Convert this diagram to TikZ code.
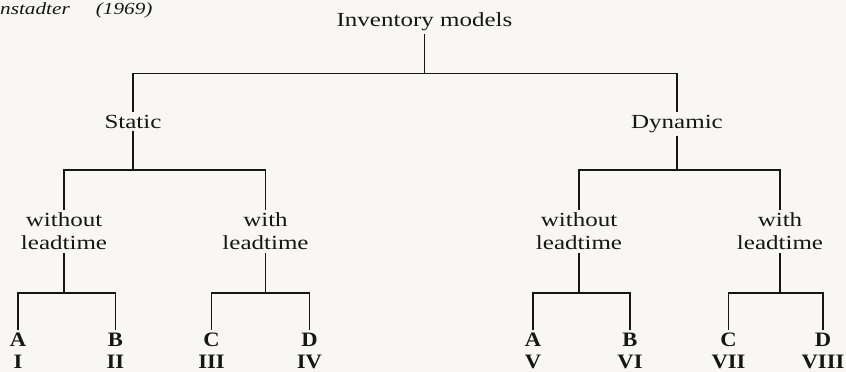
\documentclass[tikz,border=0pt]{standalone}
\usepackage{fontspec}
\setmainfont{Liberation Serif}[FakeStretch=1.25]
\newfontfamily\leaffont{Liberation Serif Bold}[FakeStretch=1.1]
\definecolor{PaperTone}{RGB}{248,247,243}
\definecolor{InkTone}{RGB}{22,22,22}

\begin{document}
\begin{tikzpicture}[x=1pt, y=-1pt,
        lbl/.style={font=\fontsize{20}{23.3}\selectfont, color=InkTone, inner sep=3pt, align=center},
        lbltop/.style={lbl, anchor=base},
        leaf/.style={font=\leaffont\fontsize{20.5}{22}\selectfont, color=InkTone, inner sep=3pt, align=center},
        branch/.style={draw=InkTone, line width=1.5pt}]
    \fill[PaperTone] (0,0) rectangle (846,372);
    \useasboundingbox (0,0) rectangle (846,372);

    % source line
    \node[lbl, font=\fontsize{17}{20}\selectfont\itshape, anchor=base west, inner sep=0pt] (src) at (0,14) {nstadter\hspace{26pt}(1969)};

    \node[lbltop] (inv)  at (424.5,26.7) {Inventory models};
    \node[lbltop] (stat) at (133,128) {Static};
    \node[lbltop] (dyn)  at (677,128) {Dynamic};

    \foreach \nd/\xx/\tx in {swo/64/without, swi/265.5/with, dwo/579/without, dwi/780/with} {
        \node[lbl] (\nd) at (\xx,231.5) {\tx\\leadtime};
    }
    \foreach \nd/\xx/\lt/\rn in {a1/18/A/I, b1/115.5/B/II, c1/211.5/C/III, d1/309.5/D/IV,
                                 a2/533/A/V, b2/630/B/VI, c2/728.5/C/VII, d2/823/D/VIII} {
        \node[leaf] (\nd) at (\xx,350.9) {\lt\\\rn};
    }

    % bar levels
    \coordinate (lev1) at (0,73.3);
    \coordinate (lev2) at (0,170);
    \coordinate (lev3) at (0,293);
    \foreach \nodeP/\nodeL/\nodeR/\lev in {inv/stat/dyn/lev1, stat/swo/swi/lev2, dyn/dwo/dwi/lev2,
            swo/a1/b1/lev3, swi/c1/d1/lev3, dwo/a2/b2/lev3, dwi/c2/d2/lev3} {
        \draw[branch] (\nodeP.south) -- (\nodeP.south |- \lev) -| (\nodeL.north)
                      (\nodeP.south |- \lev) -| (\nodeR.north);
    }
\end{tikzpicture}
\end{document}
